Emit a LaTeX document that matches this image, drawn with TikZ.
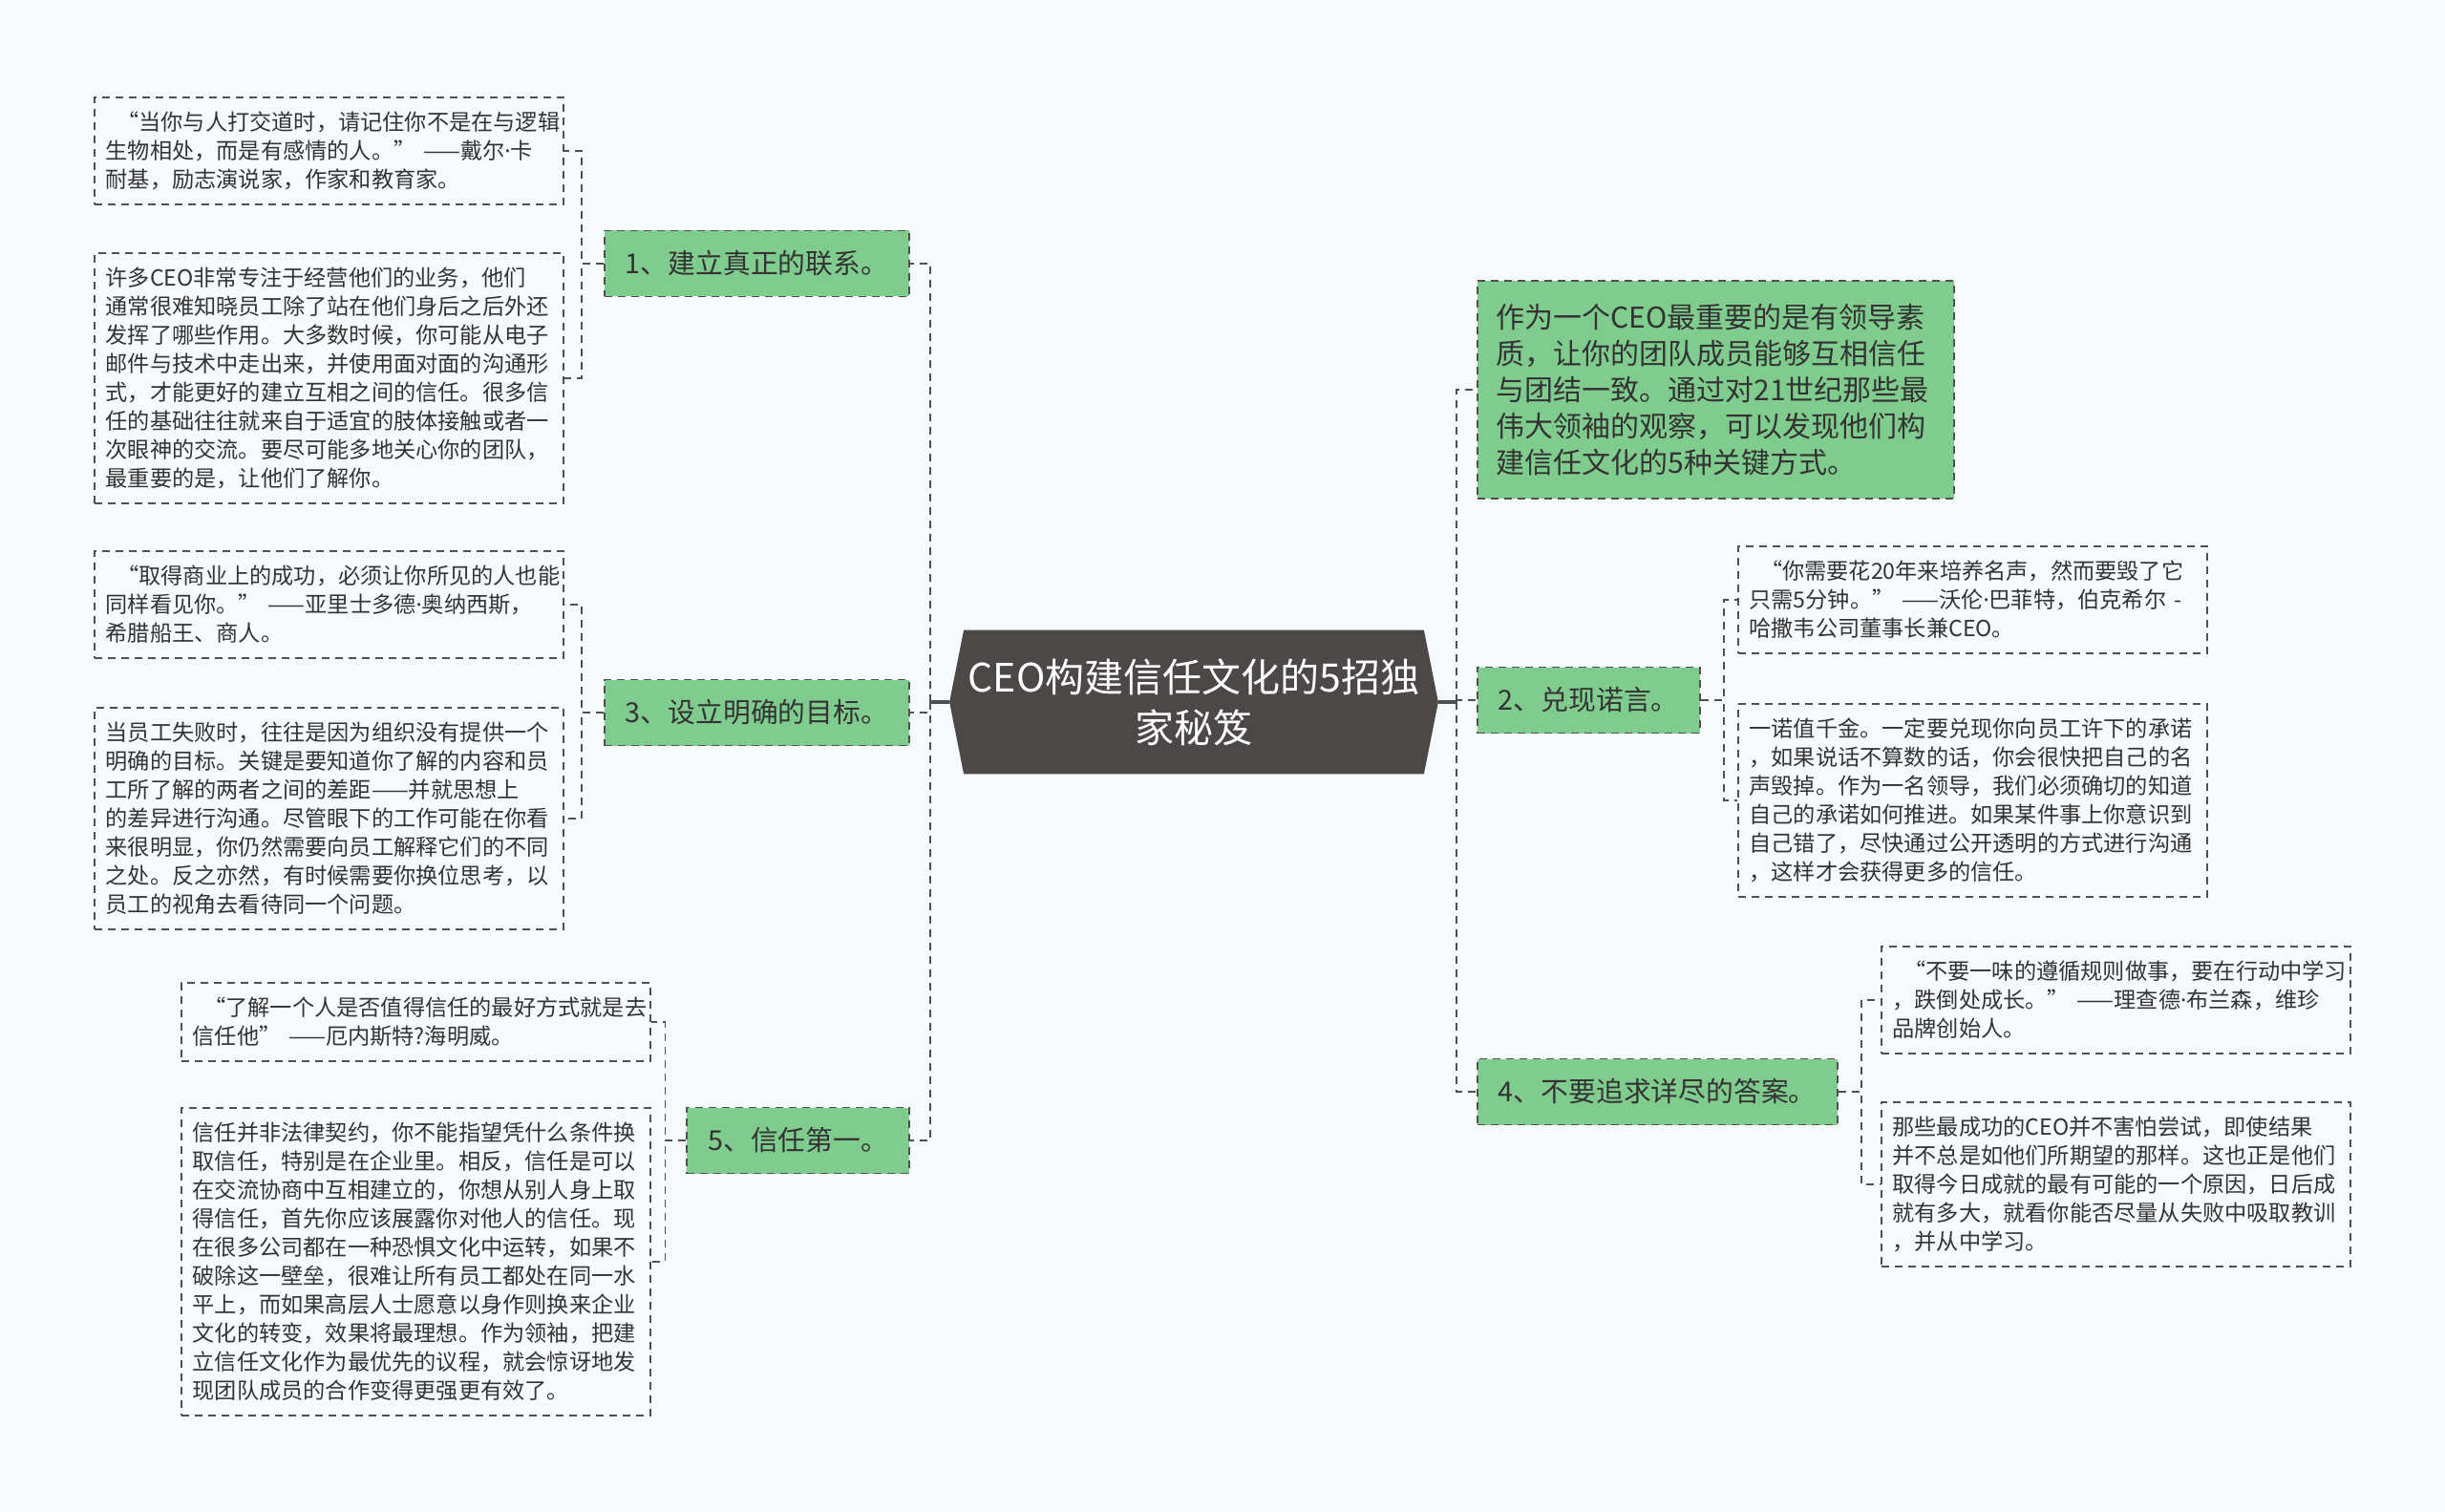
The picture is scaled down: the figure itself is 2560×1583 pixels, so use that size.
\documentclass[tikz,border=0pt]{standalone}
\usepackage{fontspec}
\setmainfont{Noto Sans CJK SC}
\newfontfamily\latinf{Noto Sans}
\newcommand{\md}{{\latinf ·}}
\usetikzlibrary{backgrounds,calc}
\definecolor{bgc}{HTML}{F7FAFD}
\definecolor{greenc}{HTML}{80CC8E}
\definecolor{rootc}{HTML}{4D4848}
\definecolor{linec}{HTML}{505050}
\definecolor{textc}{HTML}{333333}
\begin{document}
\begin{tikzpicture}[x=0.5pt,y=-0.5pt,
	link/.style={linec, line width=0.9pt, dash pattern=on 4pt off 3pt},
	trunk/.style={linec, line width=1.6pt},
	leaf/.style={draw=linec, line width=0.9pt, dash pattern=on 4pt off 3pt, text=textc, align=left, text width=234pt, inner xsep=5.75pt, inner ysep=0pt, font=\fontsize{11.6pt}{15pt}\selectfont},
	branch/.style={draw=linec, line width=0.9pt, dash pattern=on 4pt off 3pt, fill=greenc, text=textc, inner xsep=11pt, inner ysep=0pt, minimum height=34.5pt, font=\fontsize{14.4pt}{18pt}\selectfont},
	root/.style={text=white, align=center, inner sep=0pt, minimum width=255.5pt, minimum height=75pt, font=\fontsize{20.5pt}{26.5pt}\selectfont}]
	\useasboundingbox (0,0) rectangle (2560,1583);
	\node[root] (root) at (1250,735) {CEO构建信任文化的5招独\\家秘笈};
	\begin{scope}[on background layer]
		\fill[bgc] (0,0) rectangle (2560,1583);
		\fill[rootc] (root.west) -- ($(root.north west)+(15,0)$) -- ($(root.north east)+(-15,0)$) -- (root.east) -- ($(root.south east)+(-15,0)$) -- ($(root.south west)+(15,0)$) -- cycle;
	\end{scope}
	% left side
	\node[branch, anchor=east] (n1) at (953,276) {1、建立真正的联系。};
	\node[branch, anchor=east] (n3) at (953,746) {3、设立明确的目标。};
	\node[branch, anchor=east] (n5) at (953,1194) {5、信任第一。};
	\node[leaf, anchor=east, minimum height=56pt] (l1a) at (591,158) {\hspace*{0.5em}“当你与人打交道时，请记住你不是在与逻辑\\生物相处，而是有感情的人。” ——戴尔\md 卡\\耐基，励志演说家，作家和教育家。};
	\node[leaf, anchor=east, minimum height=131pt] (l1b) at (591,396) {许多CEO非常专注于经营他们的业务，他们\\通常很难知晓员工除了站在他们身后之后外还\\发挥了哪些作用。大多数时候，你可能从电子\\邮件与技术中走出来，并使用面对面的沟通形\\式，才能更好的建立互相之间的信任。很多信\\任的基础往往就来自于适宜的肢体接触或者一\\次眼神的交流。要尽可能多地关心你的团队，\\最重要的是，让他们了解你。};
	\node[leaf, anchor=east, minimum height=56pt] (l3a) at (591,633) {\hspace*{0.5em}“取得商业上的成功，必须让你所见的人也能\\同样看见你。” ——亚里士多德\md 奥纳西斯，\\希腊船王、商人。};
	\node[leaf, anchor=east, minimum height=116pt] (l3b) at (591,857) {当员工失败时，往往是因为组织没有提供一个\\明确的目标。关键是要知道你了解的内容和员\\工所了解的两者之间的差距——并就思想上\\的差异进行沟通。尽管眼下的工作可能在你看\\来很明显，你仍然需要向员工解释它们的不同\\之处。反之亦然，有时候需要你换位思考，以\\员工的视角去看待同一个问题。};
	\node[leaf, anchor=east, minimum height=41pt] (l5a) at (682,1070) {\hspace*{0.5em}“了解一个人是否值得信任的最好方式就是去\\信任他” ——厄内斯特?海明威。};
	\node[leaf, anchor=east, minimum height=161pt] (l5b) at (682,1321) {信任并非法律契约，你不能指望凭什么条件换\\取信任，特别是在企业里。相反，信任是可以\\在交流协商中互相建立的，你想从别人身上取\\得信任，首先你应该展露你对他人的信任。现\\在很多公司都在一种恐惧文化中运转，如果不\\破除这一壁垒，很难让所有员工都处在同一水\\平上，而如果高层人士愿意以身作则换来企业\\文化的转变，效果将最理想。作为领袖，把建\\立信任文化作为最优先的议程，就会惊讶地发\\现团队成员的合作变得更强更有效了。};
	% right side
	\node[branch, anchor=west, align=left, text width=230pt, inner xsep=9.75pt, minimum height=114pt, font=\fontsize{15pt}{19pt}\selectfont] (r0) at (1546,408) {作为一个CEO最重要的是有领导素\\质，让你的团队成员能够互相信任\\与团结一致。通过对21世纪那些最\\伟大领袖的观察，可以发现他们构\\建信任文化的5种关键方式。};
	\node[branch, anchor=west] (n2) at (1546,733) {2、兑现诺言。};
	\node[branch, anchor=west] (n4) at (1546,1143) {4、不要追求详尽的答案。};
	\node[leaf, anchor=west, minimum height=56pt] (r2a) at (1819,628) {\hspace*{0.5em}“你需要花20年来培养名声，然而要毁了它\\\mbox{只需5分钟。” ——沃伦\md 巴菲特，伯克希尔 -}\\哈撒韦公司董事长兼CEO。};
	\node[leaf, anchor=west, minimum height=101pt] (r2b) at (1819,838) {一诺值千金。一定要兑现你向员工许下的承诺\\，如果说话不算数的话，你会很快把自己的名\\声毁掉。作为一名领导，我们必须确切的知道\\自己的承诺如何推进。如果某件事上你意识到\\自己错了，尽快通过公开透明的方式进行沟通\\，这样才会获得更多的信任。};
	\node[leaf, anchor=west, minimum height=56pt] (r4a) at (1969,1047) {\hspace*{0.5em}“不要一味的遵循规则做事，要在行动中学习\\，跌倒处成长。” ——理查德\md 布兰森，维珍\\品牌创始人。};
	\node[leaf, anchor=west, minimum height=86pt] (r4b) at (1969,1240) {那些最成功的CEO并不害怕尝试，即使结果\\并不总是如他们所期望的那样。这也正是他们\\取得今日成就的最有可能的一个原因，日后成\\就有多大，就看你能否尽量从失败中吸取教训\\，并从中学习。};
	% connectors
	\coordinate (lbus) at (974,735);
	\coordinate (rbus) at (1525,735);
	\draw[trunk] (root.west) -- (lbus);
	\draw[trunk] (root.east) -- (rbus);
	\draw[link] (lbus) |- (n1.east);
	\draw[link] (lbus) |- (n3.east);
	\draw[link] (lbus) |- (n5.east);
	\draw[link] (rbus) |- (r0.west);
	\draw[link] (rbus) |- (n2.west);
	\draw[link] (rbus) |- (n4.west);
	\draw[link] (n1.west) -- ++(-23,0) |- (l1a.east);
	\draw[link] (n1.west) -- ++(-23,0) |- (l1b.east);
	\draw[link] (n3.west) -- ++(-23,0) |- (l3a.east);
	\draw[link] (n3.west) -- ++(-23,0) |- (l3b.east);
	\draw[link] (n5.west) -- ++(-22,0) |- (l5a.east);
	\draw[link] (n5.west) -- ++(-22,0) |- (l5b.east);
	\draw[link] (n2.east) -- ++(24,0) |- (r2a.west);
	\draw[link] (n2.east) -- ++(24,0) |- (r2b.west);
	\draw[link] (n4.east) -- ++(24,0) |- (r4a.west);
	\draw[link] (n4.east) -- ++(24,0) |- (r4b.west);
\end{tikzpicture}
\end{document}
